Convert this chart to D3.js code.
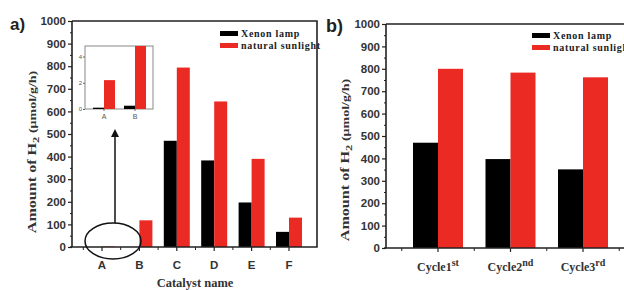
<!DOCTYPE html>
<html><head><meta charset="utf-8">
<script src="https://cdn.jsdelivr.net/npm/d3@7"></script>
<style>body{margin:0;background:#fff}svg{display:block}</style>
</head><body>
<svg id="c" width="624" height="290"></svg>
<script>
// ---- data ----
const catsA = ["A","B","C","D","E","F"];
const xenonA = [0.1, 0.25, 470, 383, 197, 67];
const sunA   = [2.2, 118, 794, 644, 390, 130];
const insetCats = ["A","B"];
const insetXenon = [0.1, 0.25];
const insetSun = [2.2, 4.8];
const cyclesB = ["Cycle1","Cycle2","Cycle3"];
const cycleSup = ["st","nd","rd"];
const xenonB = [470, 397, 351];
const sunB   = [800, 783, 762];
const yTicks = [0,100,200,300,400,500,600,700,800,900,1000];
const insetTicks = [0,2,4];
const legendLabels = ["Xenon lamp","natural sunlight"];

const RED = "#ec2a24", BLK = "#000";
const svg = d3.select("#c");
const sansB = "'Liberation Sans', Arial, sans-serif";
const serifB = "'Liberation Serif', 'Times New Roman', serif";

function yAxis(g, y, x0, minor) {
  const ax = d3.axisLeft(y).tickValues(yTicks).tickSize(4).tickPadding(2).tickFormat(d3.format("d"));
  const gg = g.append("g").attr("transform", `translate(${x0},0)`).call(ax);
  gg.select(".domain").remove();
  gg.selectAll("line").attr("stroke","#222").attr("stroke-width",1.2);
  gg.selectAll("text").attr("font-family", sansB).attr("font-weight","bold")
    .attr("font-size","11.5px").attr("fill","#333");
  const mg = g.append("g").attr("transform", `translate(${x0},0)`)
    .call(d3.axisLeft(y).tickValues(minor).tickSize(2).tickFormat(""));
  mg.select(".domain").remove();
  mg.selectAll("line").attr("stroke","#222");
}

// ===== Panel a =====
const ga = svg.append("g");
const ya = d3.scaleLinear().domain([0,1000]).range([247,21]);
const xa = d3.scalePoint().domain(catsA).range([102,289]);
const bwA = 13;
const step = xa.step();
const minorVals = d3.range(50,1000,100);
yAxis(ga, ya, 72, minorVals);
ga.selectAll(".bx").data(catsA).join("rect")
  .attr("x", d=>xa(d)-bwA).attr("width", bwA)
  .attr("y", (d,i)=>ya(xenonA[i])).attr("height",(d,i)=>ya(0)-ya(xenonA[i]))
  .attr("fill", BLK);
ga.selectAll(".br").data(catsA).join("rect")
  .attr("x", d=>xa(d)).attr("width", bwA)
  .attr("y", (d,i)=>ya(sunA[i])).attr("height",(d,i)=>ya(0)-ya(sunA[i]))
  .attr("fill", RED);
ga.append("path").attr("d",`M72,${ya(1000)}V${ya(0)}M70,${ya(0)}H317V${ya(1000)}H72`)
  .attr("fill","none").attr("stroke","#222").attr("stroke-width",1.6);
ga.selectAll(".xt").data(catsA).join("line")
  .attr("x1",d=>xa(d)).attr("x2",d=>xa(d)).attr("y1",ya(0)).attr("y2",ya(0)+4)
  .attr("stroke","#222").attr("stroke-width",1.2);
ga.selectAll(".xm").data(catsA).join("line")
  .attr("x1",d=>xa(d)-step/2).attr("x2",d=>xa(d)-step/2).attr("y1",ya(0)).attr("y2",ya(0)+3)
  .attr("stroke","#222").attr("stroke-width",1);
ga.selectAll(".xl").data(catsA).join("text")
  .attr("x",d=>xa(d)).attr("y",269).attr("text-anchor","middle")
  .attr("font-family",sansB).attr("font-weight","bold").attr("font-size","11.5px").attr("fill","#333")
  .text(d=>d);
ga.append("text").attr("x",195).attr("y",287).attr("text-anchor","middle")
  .attr("font-family",serifB).attr("font-weight","bold").attr("font-size","12.5px").attr("fill","#333")
  .text("Catalyst name");
function yTitle(g, cx, cy) {
  const t = g.append("text").attr("transform",`translate(${cx},${cy}) rotate(-90) scale(1.4,1)`)
    .attr("text-anchor","middle").attr("font-family",serifB).attr("font-weight","bold")
    .attr("font-size","11.5px").attr("fill","#333");
  t.append("tspan").text("Amount of H");
  t.append("tspan").attr("font-size","9px").attr("dy","3").text("2");
  t.append("tspan").attr("dy","-3").attr("font-size","10px").text(" (\u03bcmol/g/h)");
}
yTitle(ga, 36, 152);
ga.append("text").attr("x",10).attr("y",30).attr("font-family",sansB).attr("font-weight","bold")
  .attr("font-size","17px").attr("fill","#222").text("a)");
function legend(g, x, y) {
  [BLK, RED].forEach((c,i)=>{
    g.append("rect").attr("x",x).attr("y",y+i*12).attr("width",18).attr("height",5).attr("fill",c);
    g.append("text").attr("x",x+21).attr("y",y+i*12+5.5)
      .attr("font-family",serifB).attr("font-weight","bold").attr("font-size","10px")
      .attr("letter-spacing","0.7px").attr("fill","#222").text(legendLabels[i]);
  });
}
legend(ga, 220, 31);
ga.append("ellipse").attr("cx",113).attr("cy",241).attr("rx",28).attr("ry",18)
  .attr("fill","none").attr("stroke","#111").attr("stroke-width",1.5);
ga.append("line").attr("x1",115).attr("x2",115).attr("y1",223).attr("y2",134)
  .attr("stroke","#111").attr("stroke-width",1.5);
ga.append("path").attr("d","M115,129 L111,137 L119,137 Z").attr("fill","#111");

// inset
const gi = ga.append("g");
const yi = d3.scaleLinear().domain([0,4.8]).range([109,46]);
const xi = d3.scalePoint().domain(insetCats).range([104,135]);
const bwI = 11;
gi.append("rect").attr("x",85).attr("y",46).attr("width",68).attr("height",63)
  .attr("fill","#fff").attr("stroke","#888").attr("stroke-width",1);
gi.selectAll(".ib").data(insetCats).join("rect")
  .attr("x",d=>xi(d)-bwI).attr("width",bwI)
  .attr("y",(d,i)=>yi(insetXenon[i])).attr("height",(d,i)=>yi(0)-yi(insetXenon[i])).attr("fill",BLK);
gi.selectAll(".ir").data(insetCats).join("rect")
  .attr("x",d=>xi(d)).attr("width",bwI)
  .attr("y",(d,i)=>yi(insetSun[i])).attr("height",(d,i)=>yi(0)-yi(insetSun[i])).attr("fill",RED);
const iax = gi.append("g").attr("transform","translate(85,0)")
  .call(d3.axisLeft(yi).tickValues(insetTicks).tickSize(2).tickPadding(1).tickFormat(d3.format("d")));
iax.select(".domain").remove();
iax.selectAll("line").attr("stroke","#666");
iax.selectAll("text").attr("font-family",sansB).attr("font-size","6px").attr("fill","#555");
gi.selectAll(".ixl").data(insetCats).join("text")
  .attr("x",d=>xi(d)).attr("y",119).attr("text-anchor","middle")
  .attr("font-family",sansB).attr("font-size","7px").attr("fill","#555").text(d=>d);
gi.selectAll(".ixt").data(insetCats).join("line")
  .attr("x1",d=>xi(d)).attr("x2",d=>xi(d)).attr("y1",109).attr("y2",111).attr("stroke","#666");

// ===== Panel b =====
const gb = svg.append("g");
const yb = d3.scaleLinear().domain([0,1000]).range([248,24]);
const xb = d3.scalePoint().domain(cyclesB).range([438,583]);
const bwB = 25;
const stepB = xb.step();
yAxis(gb, yb, 386, minorVals);
gb.selectAll(".bx").data(cyclesB).join("rect")
  .attr("x", d=>xb(d)-bwB).attr("width", bwB)
  .attr("y", (d,i)=>yb(xenonB[i])).attr("height",(d,i)=>yb(0)-yb(xenonB[i])).attr("fill", BLK);
gb.selectAll(".br").data(cyclesB).join("rect")
  .attr("x", d=>xb(d)).attr("width", bwB)
  .attr("y", (d,i)=>yb(sunB[i])).attr("height",(d,i)=>yb(0)-yb(sunB[i])).attr("fill", RED);
gb.append("path").attr("d",`M386,${yb(1000)}V${yb(0)}M384,${yb(0)}H624M386,${yb(1000)}H624`)
  .attr("fill","none").attr("stroke","#222").attr("stroke-width",1.6);
gb.selectAll(".xt").data(cyclesB).join("line")
  .attr("x1",d=>xb(d)).attr("x2",d=>xb(d)).attr("y1",yb(0)).attr("y2",yb(0)+4)
  .attr("stroke","#222").attr("stroke-width",1.2);
gb.selectAll(".xm").data(cyclesB.concat(["end"])).join("line")
  .attr("x1",(d,i)=>xb(cyclesB[0])+(i-0.5)*stepB).attr("x2",(d,i)=>xb(cyclesB[0])+(i-0.5)*stepB)
  .attr("y1",yb(0)).attr("y2",yb(0)+3).attr("stroke","#222").attr("stroke-width",1);
const cl = gb.selectAll(".xl").data(cyclesB).join("text")
  .attr("x",d=>xb(d)).attr("y",271).attr("text-anchor","middle")
  .attr("font-family",serifB).attr("font-weight","bold").attr("font-size","12px").attr("fill","#333");
cl.append("tspan").text(d=>d);
cl.append("tspan").attr("dy",-5).attr("font-size","10px").text((d,i)=>cycleSup[i]);
yTitle(gb, 349, 160);
gb.append("text").attr("x",326).attr("y",32).attr("font-family",sansB).attr("font-weight","bold")
  .attr("font-size","18px").attr("fill","#222").text("b)");
legend(gb, 532, 33);
</script>
</body></html>
